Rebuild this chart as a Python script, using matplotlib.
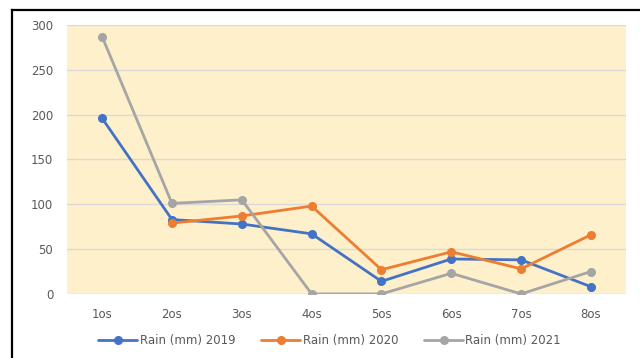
import numpy as np
import matplotlib.pyplot as plt
from matplotlib.lines import Line2D

categories = ['1os', '2os', '3os', '4os', '5os', '6os', '7os', '8os']
rain_2019 = [196, 83, 78, 67, 14, 39, 38, 8]
rain_2020 = [np.nan, 79, 87, 98, 27, 47, 28, 66]
rain_2021 = [287, 101, 105, 0, 0, 23, 0, 25]

series = [
    ('Rain (mm) 2019', rain_2019, '#4472C4'),
    ('Rain (mm) 2020', rain_2020, '#ED7D31'),
    ('Rain (mm) 2021', rain_2021, '#A5A5A5'),
]

fig = plt.figure(figsize=(6.4, 3.58), dpi=100)
ax = fig.add_axes([0.105, 0.179, 0.873, 0.751])
ax.set_facecolor('#FFF0CC')

x = np.arange(len(categories))
for label, vals, color in series:
    ax.plot(x, vals, color=color, lw=2, marker='o', ms=5.5, label=label,
            solid_capstyle='round', zorder=3)

ax.set_xlim(-0.5, len(categories) - 0.5)
ax.set_ylim(0, 300)
ax.set_yticks(range(0, 301, 50))
ax.set_xticks(x)
ax.set_xticklabels(categories)
ax.yaxis.grid(True, color='#D9D9D9', lw=1)
ax.set_axisbelow(True)
for s in ax.spines.values():
    s.set_visible(False)
ax.tick_params(length=0, labelsize=8.5, labelcolor='#595959')
ax.tick_params(axis='x', pad=10)
ax.tick_params(axis='y', pad=10)

ax.legend(loc='center', bbox_to_anchor=(0.47, -0.175), ncol=3, frameon=False,
          fontsize=8.5, labelcolor='#595959', handlelength=3.3, columnspacing=2.2,
          handletextpad=0.2)

# outer frame (only top and left edges visible in the crop)
fig.add_artist(Line2D([12 / 640, 1], [1 - 10 / 358] * 2, color='black', lw=1.6,
                      transform=fig.transFigure))
fig.add_artist(Line2D([12 / 640] * 2, [0, 1 - 10 / 358], color='black', lw=1.6,
                      transform=fig.transFigure))

fig.savefig('out.png', dpi=100)
